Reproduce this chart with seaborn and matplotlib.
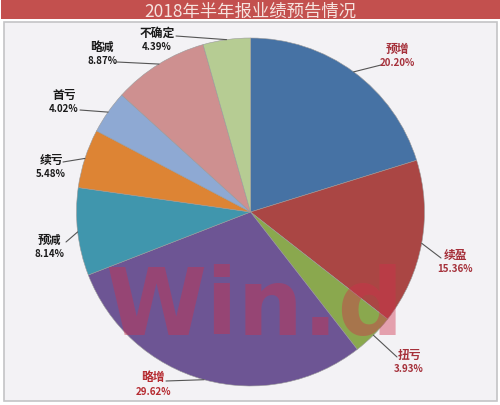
import numpy as np
import seaborn as sns
import matplotlib
matplotlib.use("Agg")
import matplotlib.pyplot as plt
from matplotlib.patches import Rectangle

categories = ["预增", "续盈", "扭亏", "略增", "预减", "续亏", "首亏", "略减", "不确定"]
values = [20.20, 15.36, 3.93, 29.62, 8.14, 5.48, 4.02, 8.87, 4.39]
colors = ["#4672a4", "#aa4644", "#8aa84e", "#6d5594", "#4096ad",
          "#dd8434", "#8ea9d3", "#ce9090", "#b6cc93"]
label_colors = ["#a5303a", "#a5303a", "#a5303a", "#b52a30", "#1a1a1a",
                "#1a1a1a", "#1a1a1a", "#1a1a1a", "#1a1a1a"]
title = "2018年半年报业绩预告情况"

# label centre and leader elbow, in image pixels (y down)
label_pos = [(397, 49), (455, 255), (409, 355), (153, 378), (49, 240),
             (51, 160), (64, 95), (102, 47), (157, 33)]
elbow_pos = [(381, 66), (441, 259), (397, 358), (166, 382), (66, 243),
             (63, 163), (80, 111), (117, 63), (176, 37)]

sns.set_theme(style="white")
plt.rcParams["font.family"] = ["Noto Sans CJK SC", "DejaVu Sans"]

W, H = 500, 406
fig = plt.figure(figsize=(W / 100, H / 100), dpi=100, facecolor="#ffffff")
ax = fig.add_axes([0, 0, 1, 1])

# panel and title band
ax.add_patch(Rectangle((3.5, H - 402), 493, 379, facecolor="#f3f2f5", edgecolor="#c4c4c6", lw=1.2, zorder=0))
ax.add_patch(Rectangle((1, H - 20), 499, 19, facecolor="#c3504e", edgecolor="none", zorder=0))

cx, cy, r = 250.5, H - 213, 174
wedges, _ = ax.pie(values, colors=sns.color_palette(colors), startangle=90, counterclock=False,
                   center=(cx, cy), radius=r, frame=True,
                   wedgeprops={"linewidth": 0.4, "edgecolor": "#9a9a9a"})
ax.set_xlim(0, W)
ax.set_ylim(0, H)
ax.set_aspect("auto")
ax.axis("off")

ax.text(250, H - 12, title, ha="center", va="center", fontsize=12.5, color="#f6e3df")

for wedge, cat, val, pos, elbow, col in zip(wedges, categories, values, label_pos, elbow_pos, label_colors):
    mid = np.deg2rad((wedge.theta1 + wedge.theta2) / 2)
    edge = (cx + r * np.cos(mid), cy + r * np.sin(mid))
    ax.plot([edge[0], elbow[0]], [edge[1], H - elbow[1]], color="#555555", lw=0.8, zorder=4)
    ax.text(pos[0], H - pos[1], cat, ha="center", va="center", fontsize=8.5, fontweight="bold", color=col, zorder=5)
    ax.text(pos[0], H - pos[1] - 14, f"{val:.2f}%", ha="center", va="center", fontsize=7,
            fontweight="bold", color=col, zorder=5)

# watermark
ax.text(254, H - 335, "Win.d", ha="center", va="baseline", fontsize=66, color="#d0304a", alpha=0.42,
        family="Liberation Sans Narrow", fontweight="bold", zorder=3)

fig.savefig("out.png", dpi=100)
